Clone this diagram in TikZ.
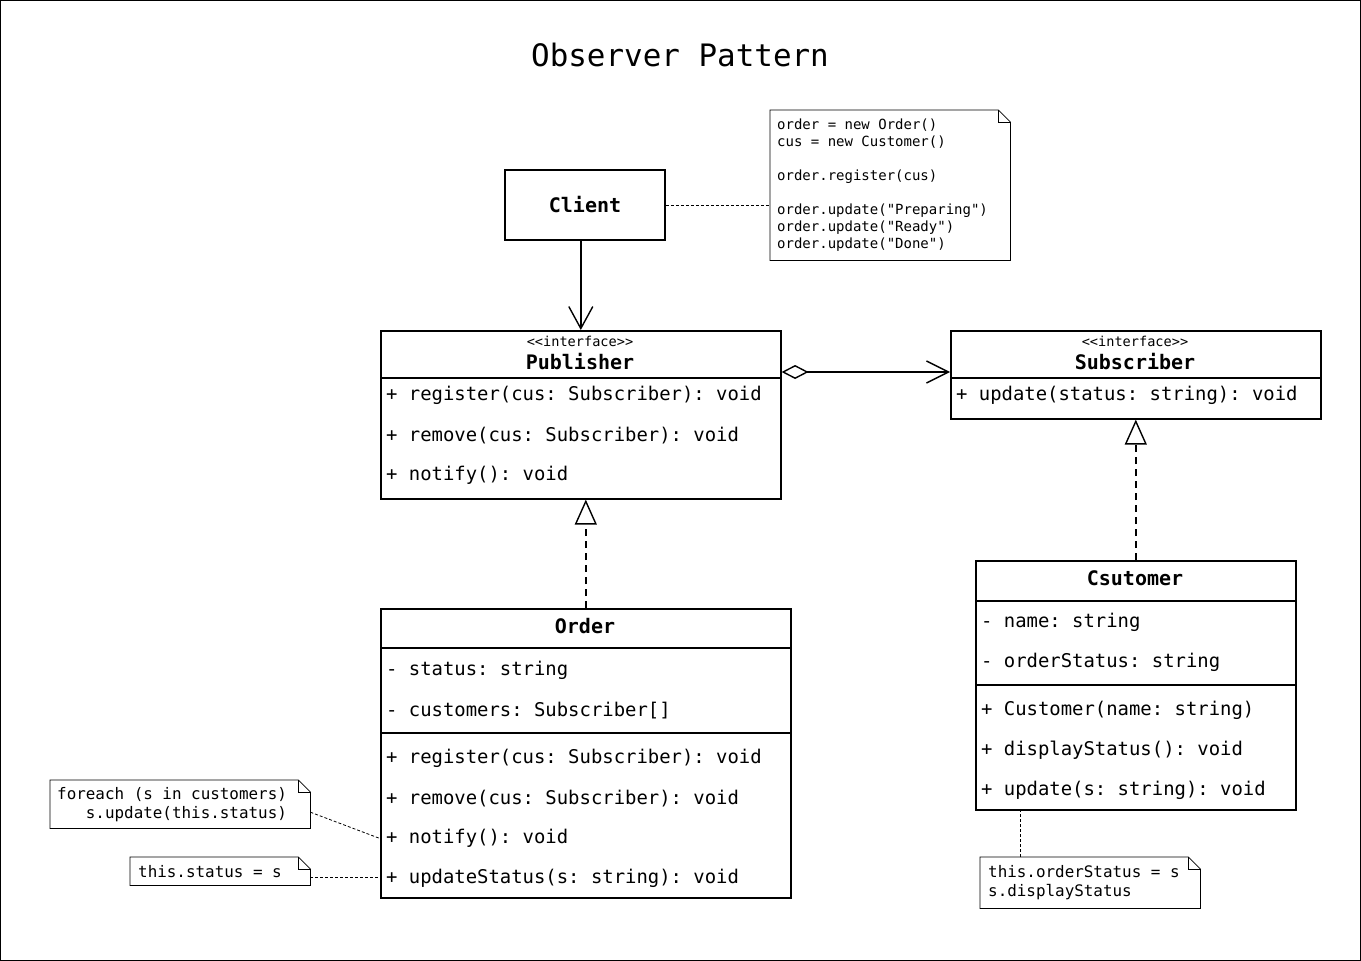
\documentclass[tikz,border=0pt]{standalone}
\usepackage{fontspec}
\setmonofont{DejaVu Sans Mono}
\renewcommand*\familydefault{\ttdefault}
\usetikzlibrary{arrows.meta,positioning}
\def\foldnote(#1){\draw[line width=0.8pt] (#1.north west) -- ([xshift=-12pt]#1.north east) -- ([yshift=-12pt]#1.north east) -- (#1.south east) -- (#1.south west) -- cycle; \draw[line width=0.8pt] ([xshift=-12pt]#1.north east) |- ([yshift=-12pt]#1.north east);}

\tikzset{
	classbox/.style={draw, line width=1.6pt, inner sep=0pt, anchor=north west},
	classname/.style={inner sep=0pt, font=\bfseries\fontsize{20}{24}\selectfont},
	stereo/.style={inner sep=0pt, font=\fontsize{13.6}{16}\selectfont},
	member/.style={anchor=west, inner sep=0pt, yshift=-1.5pt, font=\fontsize{18.9}{22}\selectfont},
	note/.style={inner ysep=0pt, inner xsep=7pt, align=left, anchor=north west, execute at begin node={\spaceskip=0pt\xspaceskip=0pt\relax}},
	notelink/.style={line width=0.8pt, dash pattern=on 3pt off 2pt},
	realize/.style={line width=1.6pt, dash pattern=on 7pt off 5pt, -{Triangle[open, length=25pt, width=22pt, line width=1.4pt]}},
	assoc/.style={line width=1.4pt, -{Straight Barb[length=22pt, width=24pt]}},
	aggregate/.style={line width=1.4pt, {Diamond[open, length=27pt, width=14pt]}-{Straight Barb[length=22pt, width=22pt]}},
}

\begin{document}
\begin{tikzpicture}[x=1pt, y=-1pt]
			%%%%% START %%%%%
			
			\useasboundingbox (0,0) rectangle (1361,961);
			\draw[line width=1pt] (0.5,0.5) rectangle (1360.5,960.5);
			
			\node[font=\fontsize{30.9}{36}\selectfont] (title) at (680,55) {Observer Pattern};
			
			% client
			\node[classbox, anchor=center, minimum width=160pt, minimum height=70pt, font=\bfseries\fontsize{20}{24}\selectfont] (client) at (585,205) {Client};
			
			% publisher
			\node[classbox, minimum width=400pt, minimum height=168pt] (publisher) at (380,330) {};
			\node[stereo] (pubStereo) at (580,341) {<<interface>>};
			\node[classname] (pubName) at (580,362) {Publisher};
			\draw[line width=1.6pt] ([yshift=-48pt]publisher.north west) -- ([yshift=-48pt]publisher.north east);
			\node[member] (pubReg) at (386,394) {+ register(cus: Subscriber): void};
			\node[member] (pubRem) at (386,434) {+ remove(cus: Subscriber): void};
			\node[member] (pubNotify) at (386,474) {+ notify(): void};
			
			% subscriber
			\node[classbox, minimum width=370pt, minimum height=88pt] (subscriber) at (950,330) {};
			\node[stereo] (subStereo) at (1135,341) {<<interface>>};
			\node[classname] (subName) at (1135,362) {Subscriber};
			\draw[line width=1.6pt] ([yshift=-48pt]subscriber.north west) -- ([yshift=-48pt]subscriber.north east);
			\node[member] (subUpdate) at (956,394) {+ update(status: string): void};
			
			% order
			\node[classbox, minimum width=410pt, minimum height=289pt] (order) at (380,608) {};
			\node[classname] (ordName) at (585,626) {Order};
			\draw[line width=1.6pt] ([yshift=-40pt]order.north west) -- ([yshift=-40pt]order.north east);
			\node[member] (ordStatus) at (386,669) {- status: string};
			\node[member] (ordCust) at (386,709) {- customers: Subscriber[]};
			\draw[line width=1.6pt] ([yshift=-125pt]order.north west) -- ([yshift=-125pt]order.north east);
			\node[member] (ordReg) at (386,757) {+ register(cus: Subscriber): void};
			\node[member] (ordRem) at (386,797) {+ remove(cus: Subscriber): void};
			\node[member] (ordNotify) at (386,837) {+ notify(): void};
			\node[member] (ordUpdate) at (386,877) {+ updateStatus(s: string): void};
			
			% customer
			\node[classbox, minimum width=320pt, minimum height=249pt] (customer) at (975,560) {};
			\node[classname] (cusName) at (1135,578) {Csutomer};
			\draw[line width=1.6pt] ([yshift=-41pt]customer.north west) -- ([yshift=-41pt]customer.north east);
			\node[member] (cusNameAttr) at (981,621) {- name: string};
			\node[member] (cusStatus) at (981,661) {- orderStatus: string};
			\draw[line width=1.6pt] ([yshift=-125pt]customer.north west) -- ([yshift=-125pt]customer.north east);
			\node[member] (cusCtor) at (981,709) {+ Customer(name: string)};
			\node[member] (cusDisplay) at (981,749) {+ displayStatus(): void};
			\node[member] (cusUpdate) at (981,789) {+ update(s: string): void};
			
			% notes
			\node[note, text width=226pt, minimum height=150pt, font=\fontsize{14}{17}\selectfont] (clientNote) at (770,110) {order = new Order()\\cus = new Customer()\\[17pt]order.register(cus)\\[17pt]order.update("Preparing")\\order.update("Ready")\\order.update("Done")};
			\foldnote(clientNote)
			\node[note, text width=246pt, minimum height=48pt, font=\fontsize{15.9}{19}\selectfont] (loopNote) at (50,780) {foreach (s in customers)\\\hphantom{xxx}s.update(this.status)};
			\foldnote(loopNote)
			\node[note, inner xsep=8pt, text width=164pt, minimum height=28pt, font=\fontsize{15.9}{19}\selectfont] (statusNote) at (130,857) {this.status = s};
			\foldnote(statusNote)
			\node[note, inner xsep=8pt, text width=204pt, minimum height=51pt, font=\fontsize{15.9}{19}\selectfont] (custNote) at (980,857) {this.orderStatus = s\\s.displayStatus};
			\foldnote(custNote)
			\coordinate (custLink) at ([xshift=40pt]custNote.north west);
			\coordinate (statusLink) at ([yshift=-6pt]statusNote.east);
			
			% links
			\draw[notelink] (client.east) -- (client.east -| clientNote.west);
			\draw[notelink] ([yshift=-8pt]loopNote.east) -- (ordNotify.west -| order.west);
			\draw[notelink] (statusLink) -- (statusLink -| order.west);
			\draw[notelink] (custLink) -- (custLink |- customer.south);
			
			\draw[assoc] (client.south -| publisher.north) -- (publisher.north);
			\draw[aggregate] ([yshift=-42pt]publisher.north east) -- ([yshift=-42pt]subscriber.north west);
			\draw[realize] (order.north) -- (order.north |- publisher.south);
			\draw[realize] (customer.north) -- (subscriber.south);
			
			%%%%% END %%%%%
\end{tikzpicture}
\end{document}
